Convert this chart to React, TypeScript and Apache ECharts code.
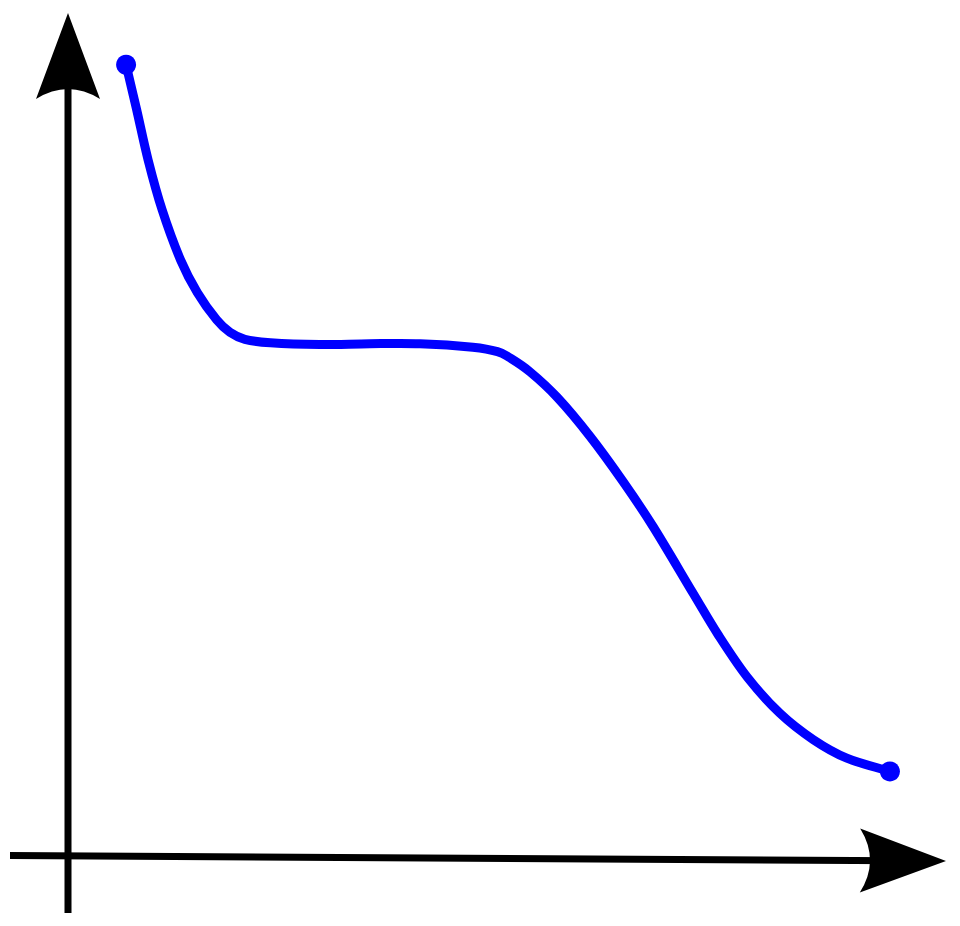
import React, { useEffect, useRef } from "react";
import * as echarts from "echarts";

// Curve (axis units, origin at the axes' crossing)
const curveX = [
  0.66, 0.78, 0.91, 1.07, 1.28, 1.47, 1.69, 1.84, 2.01, 2.3, 2.86, 3.43, 4.0,
  4.6, 4.88, 5.02, 5.25, 5.56, 5.93, 6.31, 6.65, 7.1, 7.39, 7.72, 8.09, 8.47,
  8.85, 9.34,
];
const curveY = [
  8.98, 8.47, 7.9, 7.33, 6.76, 6.39, 6.08, 5.94, 5.86, 5.82, 5.8, 5.81, 5.81,
  5.77, 5.72, 5.65, 5.49, 5.2, 4.76, 4.24, 3.73, 2.98, 2.5, 2.02, 1.61, 1.31,
  1.1, 0.95,
];

const xRange = [0, 10];
const yRange = [0, 9.5];

const ARROW_D = "M0,0 L32,86 Q0,66 -32,86 Z";
let registered = false;

function catmullRom(pts: number[][]): string {
  let d = `M${pts[0][0]},${pts[0][1]}`;
  for (let i = 0; i < pts.length - 1; i++) {
    const p0 = pts[i - 1] || pts[i];
    const p1 = pts[i];
    const p2 = pts[i + 1];
    const p3 = pts[i + 2] || p2;
    const c1x = p1[0] + (p2[0] - p0[0]) / 6;
    const c1y = p1[1] + (p2[1] - p0[1]) / 6;
    const c2x = p2[0] - (p3[0] - p1[0]) / 6;
    const c2y = p2[1] - (p3[1] - p1[1]) / 6;
    d += ` C${c1x},${c1y} ${c2x},${c2y} ${p2[0]},${p2[1]}`;
  }
  return d;
}

export default function App() {
  const ref = useRef<HTMLDivElement>(null);

  useEffect(() => {
    if (!ref.current) return;
    if (!registered) {
      echarts.graphic.registerShape(
        "arrowHead",
        echarts.graphic.extendPath(ARROW_D, {}) as any
      );
      registered = true;
    }
    const chart = echarts.init(ref.current, null, { renderer: "svg" });
    const curve = curveX.map((x, i) => [x, curveY[i]]);
    const ends = [curve[0], curve[curve.length - 1]];

    chart.setOption({
      animation: false,
      backgroundColor: "#ffffff",
      grid: { left: 68, right: 12, top: 19, bottom: 71 },
      xAxis: { type: "value", min: xRange[0], max: xRange[1], show: false },
      yAxis: { type: "value", min: yRange[0], max: yRange[1], show: false },
      series: [
        {
          type: "custom",
          data: curve,
          clip: false,
          renderItem: (params: any, api: any) => {
            if (params.dataIndex !== 0) return null;
            const pts = curve.map((p) => api.coord(p));
            return {
              type: "path",
              shape: { pathData: catmullRom(pts) },
              style: {
                stroke: "#0000ff",
                lineWidth: 9,
                fill: "none",
                lineCap: "round",
                lineJoin: "round",
              },
            };
          },
          z: 3,
        },
        {
          type: "scatter",
          data: ends,
          symbol: "circle",
          symbolSize: 20,
          itemStyle: { color: "#0000ff", opacity: 1 },
          z: 4,
        },
      ],
    });

    const o = chart.convertToPixel({ gridIndex: 0 }, [0, 0]) as number[];
    const ox = o[0];
    const oy = o[1];
    const tilt = 5.5 / 936;
    const xTip = [946, oy + 0.5 + (946 - 10) * tilt];

    chart.setOption({
      graphic: [
        {
          type: "line",
          shape: { x1: ox, y1: 913, x2: ox, y2: 60 },
          style: { stroke: "#000", lineWidth: 7 },
          z: 1,
        },
        {
          type: "arrowHead",
          x: ox,
          y: 13,
          style: { fill: "#000" },
          z: 2,
        },
        {
          type: "line",
          shape: {
            x1: 10,
            y1: oy + 0.5,
            x2: 900,
            y2: oy + 0.5 + (900 - 10) * tilt,
          },
          style: { stroke: "#000", lineWidth: 7 },
          z: 1,
        },
        {
          type: "arrowHead",
          x: xTip[0],
          y: xTip[1],
          rotation: -Math.PI / 2 - tilt,
          style: { fill: "#000" },
          z: 2,
        },
      ],
    });

    return () => chart.dispose();
  }, []);

  return (
    <div
      ref={ref}
      style={{ position: "absolute", left: 0, top: 0, width: 960, height: 926 }}
    />
  );
}
